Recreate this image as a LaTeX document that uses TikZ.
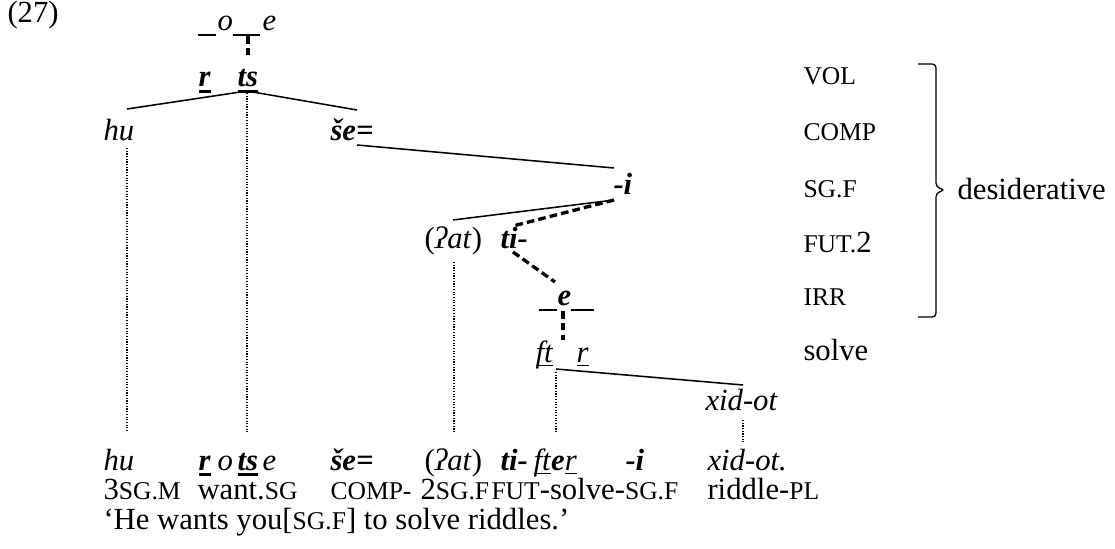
\documentclass[tikz,border=0pt]{standalone}
\usepackage{fontspec}
\setmainfont{Liberation Serif}
\usetikzlibrary{positioning}

\newcommand{\smc}[1]{{\fontsize{10pt}{11pt}\selectfont #1}}
\newcommand{\bi}[1]{\textbf{\textit{#1}}}
\newcommand{\ulthick}[1]{\setbox0\hbox{#1}\rlap{\rule[-2.2pt]{\wd0}{1.2pt}}\box0}
\newcommand{\ulthin}[1]{\setbox0\hbox{#1}\rlap{\rule[-1.6pt]{\wd0}{0.5pt}}\box0}

\begin{document}
\begin{tikzpicture}[
	x=0.391pt, y=-0.391pt,
	word/.style={
		anchor=base west,
		inner sep=0pt,
		font=\fontsize{12pt}{14pt}\selectfont
	},
	branch/.style={
		line width=0.6pt
	},
	assoc/.style={
		line width=1.3pt,
		dash pattern=on 3pt off 1.6pt
	},
	link/.style={
		line width=0.45pt,
		dash pattern=on 0.45pt off 0.6pt
	},
	slot/.style={
		line width=0.6pt
	}
	]
	\useasboundingbox (0,0) rectangle (1115,548);

	\node[word] (exno) at (7,23) {(27)};

	% template and root
	\node[word] (tmpo) at (217,31) {\textit{o}};
	\node[word] (tmpe) at (262,31) {\textit{e}};
	\draw[slot] (198,35) -- (216,35);
	\draw[slot] (233,35) -- (260,35);
	\coordinate (slot2) at (248,36);
	\coordinate (slot2end) at (248,56);
	\draw[assoc] (slot2) -- (slot2end);

	\node[word] (rootr) at (198,87) {\ulthick{\bi{r}}};
	\node[word] (rootts) at (237,87) {\ulthick{\bi{ts}}};

	% tree
	\node[word] (hu) at (103,140) {\textit{hu}};
	\node[word] (se) at (330,140) {\bi{še=}};
	\node[word] (sgf) at (613,194) {\bi{-i}};
	\node[word] (pat) at (424,248) {(\textit{ʔat})};
	\node[word] (ti) at (500,248) {\bi{ti-}};
	\node[word] (irr) at (557,305) {\bi{e}};
	\node[word] (ft) at (535,362) {\ulthin{\textit{ft}}};
	\node[word] (rr) at (576,362) {\ulthin{\textit{r}}};
	\node[word] (xid) at (705,410) {\textit{xid-ot}};

	\draw[slot] (539,310) -- (557,310);
	\draw[slot] (571,310) -- (594,310);

	\coordinate (ts-foot) at (247,91);
	\coordinate (hu-head) at (127,109);
	\coordinate (se-head) at (357,110);
	\coordinate (se-foot) at (357,145);
	\coordinate (i-head) at (614,168);
	\coordinate (i-foot) at (614,200);
	\coordinate (pat-head) at (453,220);
	\coordinate (ti-head) at (513,226);
	\coordinate (ti-foot) at (513,252);
	\coordinate (e-head) at (555,282);
	\coordinate (e-foot) at (563,311);
	\coordinate (ft-head) at (563,340);
	\coordinate (ft-foot) at (556,369);
	\coordinate (xid-head) at (743,385);

	\draw[branch] (ts-foot) -- (hu-head);
	\draw[branch] (ts-foot) -- (se-head);
	\draw[branch] (se-foot) -- (i-head);
	\draw[branch] (i-foot) -- (pat-head);
	\draw[assoc] (i-foot) -- (ti-head);
	\draw[assoc] (ti-foot) -- (e-head);
	\draw[assoc] (e-foot) -- (ft-head);
	\draw[branch] (ft-foot) -- (xid-head);

	% links down to the surface line
	\foreach \x/\ytop/\ybot in {127/148/432, 247/93/432, 454/262/432, 556/372/432, 743/420/442}{
		\draw[link] (\x,\ytop) -- (\x,\ybot);
	}

	% layer labels
	\foreach \yb/\lab/\nm in {85/\smc{VOL}/vol, 140/\smc{COMP}/comp, 197/\smc{SG.F}/sgflab, 252/\smc{FUT.}2/fut, 305/\smc{IRR}/irrlab, 360/solve/solve}{
		\node[word] (\nm) at (803,\yb) {\lab};
	}
	\draw[line width=0.5pt, rounded corners=1.5pt] (918,64) -- (936,64) -- (936,187) -- (945,190) -- (936,193) -- (936,317) -- (918,317);
	\node[word] (desid) at (957,199) {desiderative};

	% surface line
	\node[word] (s-hu) at (103,470) {\textit{hu}};
	\node[word] (s-r) at (198,470) {\ulthick{\bi{r}}};
	\node[word] (s-o) at (217,470) {\textit{o}};
	\node[word] (s-ts) at (237,470) {\ulthick{\bi{ts}}};
	\node[word] (s-e) at (262,470) {\textit{e}};
	\node[word] (s-se) at (330,470) {\bi{še=}};
	\node[word] (s-pat) at (424,470) {(\textit{ʔat})};
	\node[word] (s-ti) at (500,470) {\bi{ti-}};
	\node[word] (s-fter) at (533,470) {\ulthin{\textit{ft}}\bi{e}\ulthin{\textit{r}}};
	\node[word] (s-i) at (625,470) {\bi{-i}};
	\node[word] (s-xid) at (707,470) {\textit{xid-ot.}};

	% glosses
	\node[word] (g-hu) at (103,499) {3\smc{SG.M}};
	\node[word] (g-want) at (197,499) {want.\smc{SG}};
	\node[word] (g-comp) at (330,499) {\smc{COMP-}};
	\node[word] (g-pat) at (420,499) {2\smc{SG.F}};
	\node[word] (g-solve) at (491,499) {\smc{FUT}-solve-\smc{SG.F}};
	\node[word] (g-xid) at (707,499) {riddle-\smc{PL}};

	\node[word] (transl) at (103,529) {‘He wants you[\smc{SG.F}] to solve riddles.’};
\end{tikzpicture}
\end{document}
